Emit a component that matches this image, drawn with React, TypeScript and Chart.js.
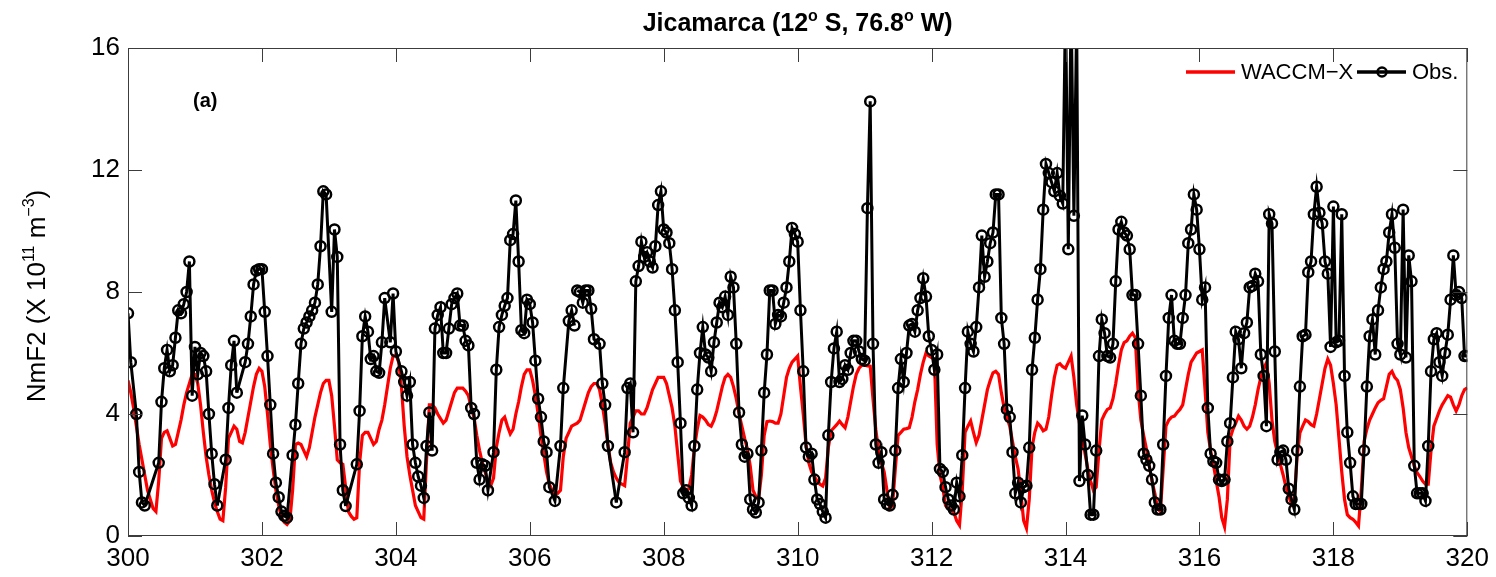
import React, { useEffect, useRef } from "react";
import { Chart, registerables } from "chart.js";

Chart.register(...registerables);

const START_DAY = 300;
const HOURS_PER_DAY = 24;
const X_TICKS = [300, 302, 304, 306, 308, 310, 312, 314, 316, 318, 320];
const Y_TICKS = [0, 4, 8, 12, 16];

// WACCM-X hourly NmF2 (x 10^11 m^-3), one row per day (300 .. 319), last row = day 320 h0
const WACCM_X: number[][] = [
  [5.1, 4.7, 4.2, 3.6, 3.0, 2.5, 2.0, 1.5, 1.2, 0.9, 0.8, 1.8, 3.2, 3.4, 3.45, 3.2, 2.95, 3.0, 3.4, 3.8, 4.3, 4.7, 5.0, 5.3],
  [5.3, 5.0, 4.3, 3.4, 2.6, 2.0, 1.5, 1.1, 0.8, 0.55, 0.5, 1.6, 3.2, 3.4, 3.6, 3.5, 3.1, 3.05, 3.4, 3.9, 4.4, 4.9, 5.3, 5.5],
  [5.4, 4.9, 4.0, 3.0, 2.2, 1.5, 1.0, 0.6, 0.45, 0.38, 0.5, 1.5, 3.0, 3.05, 3.0, 2.8, 2.6, 2.9, 3.4, 3.9, 4.3, 4.7, 5.0, 5.1],
  [5.1, 4.6, 3.6, 2.5, 2.4, 2.35, 1.6, 0.8, 0.65, 0.55, 0.6, 2.4, 3.3, 3.4, 3.4, 3.2, 3.0, 3.1, 3.5, 3.8, 4.3, 4.9, 5.5, 5.9],
  [5.95, 5.7, 4.9, 3.6, 2.6, 2.0, 1.5, 1.0, 0.8, 0.6, 0.55, 2.5, 4.3, 4.3, 4.2, 4.0, 3.85, 3.7, 3.8, 4.1, 4.4, 4.7, 4.85, 4.85],
  [4.85, 4.75, 4.6, 4.2, 3.9, 3.3, 2.8, 2.4, 2.1, 1.8, 1.65, 1.9, 2.9, 3.4, 3.8, 3.9, 3.6, 3.35, 3.5, 4.0, 4.4, 4.9, 5.3, 5.45],
  [5.45, 5.1, 4.6, 4.0, 3.3, 2.7, 2.1, 1.7, 1.5, 1.4, 1.4, 1.5, 2.6, 3.2, 3.4, 3.6, 3.65, 3.7, 3.8, 4.1, 4.4, 4.7, 4.9, 5.0],
  [5.0, 4.8, 4.3, 3.7, 3.0, 2.4, 2.1, 1.9, 1.75, 1.7, 1.65, 2.6, 3.7, 3.9, 4.1, 4.1, 4.0, 4.0, 4.2, 4.5, 4.8, 5.0, 5.2, 5.2],
  [5.2, 5.0, 4.6, 4.2, 3.6, 2.7, 1.8, 1.6, 1.5, 1.55, 2.0, 2.9, 3.5, 3.95, 3.9, 3.8, 3.65, 3.6, 3.8, 4.1, 4.5, 4.9, 5.2, 5.3],
  [5.2, 4.9, 4.5, 4.0, 3.6, 3.2, 2.85, 2.3, 1.5, 1.3, 1.2, 2.0, 3.3, 3.75, 3.77, 3.75, 3.7, 3.7, 4.0, 4.6, 5.2, 5.5, 5.7, 5.8],
  [5.9, 4.9, 4.0, 3.0, 2.4, 2.1, 1.95, 1.8, 1.7, 1.64, 1.9, 2.9, 3.45, 3.55, 3.65, 3.77, 3.65, 3.55, 3.9, 4.4, 4.9, 5.3, 5.5, 5.6],
  [5.6, 5.58, 5.57, 4.5, 3.5, 2.8, 2.4, 2.1, 1.5, 0.9, 1.0, 2.2, 3.3, 3.4, 3.5, 3.52, 3.55, 3.9, 4.4, 4.8, 5.3, 5.7, 6.0, 5.9],
  [5.85, 5.8, 3.0, 2.0, 1.6, 1.0, 0.9, 0.85, 0.77, 0.5, 0.35, 1.5, 3.4, 3.6, 3.77, 3.4, 3.06, 3.3, 3.8, 4.3, 4.8, 5.1, 5.35, 5.4],
  [5.3, 4.7, 4.2, 3.9, 3.6, 3.1, 2.6, 2.2, 1.4, 0.5, 0.25, 1.2, 2.9, 3.4, 3.7, 3.6, 3.45, 3.5, 3.9, 4.6, 5.2, 5.6, 5.65, 5.55],
  [5.5, 5.7, 5.9, 5.2, 4.3, 3.7, 3.2, 2.7, 2.2, 1.8, 1.5, 1.6, 2.8, 3.8, 4.0, 4.15, 4.2, 4.5, 5.0, 5.6, 6.1, 6.34, 6.4, 6.55],
  [6.65, 6.5, 4.8, 3.8, 3.3, 2.85, 2.3, 1.8, 1.4, 0.9, 0.8, 2.2, 3.6, 3.8, 3.9, 3.93, 4.05, 4.15, 4.3, 4.8, 5.3, 5.7, 5.85, 6.0],
  [6.05, 6.1, 4.8, 3.4, 2.8, 2.35, 1.8, 1.3, 0.6, 0.3, 1.2, 3.2, 3.5, 3.7, 3.93, 3.8, 3.6, 3.5, 3.6, 3.9, 4.3, 4.8, 5.2, 5.5],
  [5.68, 5.0, 3.8, 3.1, 2.7, 2.35, 2.0, 1.6, 1.3, 1.05, 1.2, 2.6, 3.38, 3.6, 3.8, 3.75, 3.65, 3.6, 4.0, 4.5, 5.0, 5.5, 5.8, 5.6],
  [5.0, 4.3, 3.2, 2.1, 1.2, 0.7, 0.6, 0.55, 0.45, 0.33, 1.5, 3.1, 3.5, 3.8, 4.0, 4.2, 4.37, 4.45, 4.5, 4.9, 5.3, 5.4, 5.2, 5.1],
  [4.8, 4.2, 3.4, 2.9, 2.6, 2.3, 2.08, 1.95, 1.8, 1.7, 1.7, 2.8, 3.6, 3.85, 4.1, 4.3, 4.45, 4.6, 4.55, 4.3, 4.1, 4.3, 4.6, 4.8],
  [4.86],
];

// Observed hourly NmF2 (null = no sounding that hour)
const OBS: (number | null)[][] = [
  [7.3, 5.7, null, 4.0, 2.1, 1.1, 1.0, null, null, null, null, 2.4, 4.4, 5.5, 6.1, 5.4, 5.6, 6.5, 7.4, 7.3, 7.6, 8.0, 9.0, 4.6],
  [6.2, 5.3, 6.0, 5.9, 5.4, 4.0, 2.7, 1.7, 1.0, null, null, 2.5, 4.2, 5.6, 6.4, 4.7, null, null, 5.7, 6.3, 7.2, 8.25, 8.7, 8.75],
  [8.75, 7.35, 5.9, 4.3, 2.7, 1.75, 1.27, 0.8, 0.66, 0.6, null, 2.65, 3.65, 5.0, 6.3, 6.8, 7.0, 7.2, 7.4, 7.65, 8.25, 9.5, 11.3, 11.2],
  [null, 7.35, 10.05, 9.15, 3.0, 1.5, 0.98, null, null, null, 2.35, 4.1, 6.55, 7.2, 6.7, 5.8, 5.9, 5.4, 5.35, 6.35, 7.8, null, 6.35, 7.95],
  [6.05, null, 5.4, 5.05, 4.6, 5.05, 3.0, 2.4, 1.95, 1.65, 1.25, 2.95, 4.05, 2.8, 6.8, 7.25, 7.5, 6.0, 6.0, 6.8, 7.6, 7.8, 7.95, 6.9],
  [6.9, 6.4, 6.25, 4.2, 4.0, 2.4, 1.85, 2.35, 2.3, 1.5, null, 2.75, 5.45, 6.85, 7.25, 7.55, 7.8, 9.7, 9.9, 11.0, 9.0, 6.75, 6.65, 7.75],
  [7.6, 7.0, 5.75, 4.5, 3.9, 3.1, 2.75, 1.6, null, 1.15, null, 2.95, 4.85, null, 7.05, 7.4, 6.9, 8.05, 8.0, 7.65, 8.05, 8.05, 7.45, 6.45],
  [null, 6.3, 5.0, 4.3, 2.95, null, null, 1.1, null, null, 2.75, 4.85, 5.0, 3.4, 8.35, 8.85, 9.65, 9.15, 9.3, 9.0, 8.8, 9.5, 10.85, 11.3],
  [10.05, 9.95, 9.6, 8.75, 7.4, 5.7, 3.7, 1.4, 1.5, 1.25, 1.0, 2.95, 4.8, 6.0, 6.85, 5.95, 5.85, 5.4, 6.35, 7.0, 7.65, 7.5, 7.85, 7.25],
  [8.5, 8.15, 6.3, 4.05, 3.0, 2.6, 2.7, 1.2, 0.87, 0.77, 1.1, 2.8, 4.7, 5.95, 8.05, 8.05, 6.95, 7.25, 7.2, 7.65, 8.15, 9.0, 10.1, 9.9],
  [9.65, 7.4, 5.4, 2.9, 2.6, 2.7, 1.85, 1.2, 1.05, 0.8, 0.6, 3.3, 5.05, 6.15, 6.7, 5.05, 5.15, 5.6, 5.45, 6.0, 6.4, 6.4, 6.05, 5.8],
  [5.75, 10.75, 14.25, 6.3, 3.0, 2.4, 2.75, 1.2, 1.05, 1.0, 1.35, 2.8, 4.85, 5.8, 5.05, 6.0, 6.9, 6.95, 6.7, 7.4, 7.8, 8.45, 7.85, 6.55],
  [6.1, 5.45, 5.95, 2.2, 2.1, 1.6, 1.2, 1.0, 0.87, 1.75, 1.3, 2.65, 4.85, 6.7, 6.3, 6.05, 6.85, 8.15, 9.85, 8.5, 9.0, 9.6, 9.95, 11.2],
  [11.2, 7.15, 6.3, 4.15, 3.9, 2.75, 1.4, 1.75, 1.1, 1.6, 1.65, 2.9, 5.45, 6.5, 7.75, 8.75, 10.7, 12.2, 11.9, 11.6, 11.3, 11.9, 11.15, 10.9],
  [17.5, 9.4, 17.5, 10.5, 17.0, 1.8, 3.95, 3.0, 2.0, 0.7, 0.7, 2.8, 5.9, 7.1, 6.65, 5.9, 5.85, 6.3, 8.35, 10.05, 10.3, 9.95, 9.85, 9.4],
  [7.9, 7.9, 6.3, 4.6, 2.7, 2.5, 2.3, 1.85, 1.1, 0.87, 0.87, 3.0, 5.25, 7.15, 7.9, 6.4, 6.3, 6.3, 7.15, 7.9, 9.6, 10.05, 11.2, 10.7],
  [9.4, 7.75, 8.15, 4.2, 2.7, 2.45, 2.4, 1.85, 1.8, 1.85, 3.1, 3.7, 5.2, 6.7, 6.45, 5.5, 6.65, 7.0, 8.15, 8.2, 8.6, 8.35, 5.95, 5.25],
  [3.6, 10.55, 10.25, 6.05, 2.5, 2.75, 2.8, 2.5, 1.55, 1.2, 0.87, 2.8, 4.9, 6.55, 6.6, 8.65, 9.0, 10.55, 11.45, 10.6, 10.25, 9.0, 8.6, 6.2],
  [10.8, 6.35, 6.4, 10.55, 5.25, 3.4, 2.4, 1.3, 1.05, 1.05, 1.05, 2.8, 4.9, 6.55, 7.1, 5.95, 7.4, 8.15, 8.75, 9.0, 9.95, 10.55, 9.45, 6.3],
  [5.95, 10.7, 5.85, 9.2, 8.35, 2.3, 1.4, 1.4, 1.4, 1.15, 2.95, 5.4, 6.45, 6.65, 5.7, 5.25, 6.0, 6.6, 7.75, 9.2, 7.9, 8.0, 7.8, 5.9],
  [5.9],
];

// [day, hour] after which the observed line is interrupted
const OBS_BREAKS: [number, number][] = [
  [300, 6], [301, 8], [301, 15], [303, 6], [306, 16], [307, 4], [307, 7],
];

const FONT = "'Liberation Sans', Arial, Helvetica, sans-serif";

function toPoints(rows: (number | null)[][]) {
  const pts: { x: number; y: number | null }[] = [];
  rows.forEach((row, d) =>
    row.forEach((v, h) => pts.push({ x: START_DAY + d + h / HOURS_PER_DAY, y: v }))
  );
  return pts;
}

type Part = { t: string; sup?: boolean };

function drawRich(
  ctx: CanvasRenderingContext2D,
  parts: Part[],
  x: number,
  y: number,
  size: number,
  weight: string,
  align: "left" | "center"
) {
  const supSize = Math.round(size * 0.62);
  const rise = size * 0.42;
  const widths = parts.map((p) => {
    ctx.font = `${weight} ${p.sup ? supSize : size}px ${FONT}`;
    return ctx.measureText(p.t).width;
  });
  const total = widths.reduce((a, b) => a + b, 0);
  let cx = align === "center" ? x - total / 2 : x;
  ctx.textAlign = "left";
  ctx.textBaseline = "alphabetic";
  parts.forEach((p, i) => {
    ctx.font = `${weight} ${p.sup ? supSize : size}px ${FONT}`;
    ctx.fillText(p.t, cx, p.sup ? y - rise : y);
    cx += widths[i];
  });
}

const decorPlugin = {
  id: "decor",
  afterDraw(chart: any) {
    const { ctx, chartArea: a, scales } = chart;
    ctx.save();
    // frame
    ctx.strokeStyle = "#3c3c3c";
    ctx.lineWidth = 1;
    ctx.strokeRect(a.left + 0.5, a.top + 0.5, a.right - a.left - 1, a.bottom - a.top - 1);
    // inner tick marks
    const tl = 14;
    ctx.beginPath();
    X_TICKS.forEach((v) => {
      const px = Math.round(scales.x.getPixelForValue(v)) + 0.5;
      ctx.moveTo(px, a.bottom);
      ctx.lineTo(px, a.bottom - tl);
      ctx.moveTo(px, a.top);
      ctx.lineTo(px, a.top + tl);
    });
    Y_TICKS.forEach((v) => {
      const py = Math.round(scales.y.getPixelForValue(v)) + 0.5;
      ctx.moveTo(a.left, py);
      ctx.lineTo(a.left + tl, py);
      ctx.moveTo(a.right, py);
      ctx.lineTo(a.right - tl, py);
    });
    ctx.stroke();

    ctx.fillStyle = "#000";
    // title
    drawRich(
      ctx,
      [{ t: "Jicamarca (12" }, { t: "o", sup: true }, { t: " S, 76.8" }, { t: "o", sup: true }, { t: " W)" }],
      (a.left + a.right) / 2,
      31,
      25,
      "bold",
      "center"
    );
    // y label
    ctx.save();
    ctx.translate(45, 296);
    ctx.rotate(-Math.PI / 2);
    drawRich(
      ctx,
      [{ t: "NmF2 (X 10" }, { t: "11", sup: true }, { t: " m" }, { t: "\u22123", sup: true }, { t: ")" }],
      0,
      0,
      26,
      "normal",
      "center"
    );
    ctx.restore();

    // panel tag
    ctx.font = `bold 20px ${FONT}`;
    ctx.textAlign = "left";
    ctx.textBaseline = "middle";
    ctx.fillText("(a)", 193, 101);

    // legend
    const ly = 72;
    ctx.lineCap = "butt";
    ctx.strokeStyle = "#ff0000";
    ctx.lineWidth = 3.5;
    ctx.beginPath();
    ctx.moveTo(1186, ly);
    ctx.lineTo(1235, ly);
    ctx.stroke();
    ctx.font = `22px ${FONT}`;
    ctx.fillStyle = "#000";
    ctx.textBaseline = "middle";
    ctx.fillText("WACCM\u2212X", 1241, ly + 1);
    ctx.strokeStyle = "#000";
    ctx.lineWidth = 3.5;
    ctx.beginPath();
    ctx.moveTo(1357, ly);
    ctx.lineTo(1406, ly);
    ctx.stroke();
    ctx.lineWidth = 2.5;
    ctx.beginPath();
    ctx.arc(1382, ly, 4.5, 0, Math.PI * 2);
    ctx.stroke();
    ctx.fillText("Obs.", 1412, ly + 1);
    ctx.restore();
  },
};

export default function App() {
  const ref = useRef<HTMLCanvasElement>(null);

  useEffect(() => {
    const canvas = ref.current;
    if (!canvas) return;
    const breakIdx = new Set(
      OBS_BREAKS.map(([d, h]) => (d - START_DAY) * HOURS_PER_DAY + h)
    );
    const tickFont = { family: FONT, size: 26 };
    const chart = new Chart(canvas, {
      type: "line",
      data: {
        datasets: [
          {
            label: "Obs.",
            data: toPoints(OBS) as any,
            borderColor: "#000",
            borderWidth: 3,
            pointRadius: 5,
            pointBorderWidth: 2.5,
            pointBorderColor: "#000",
            pointBackgroundColor: "rgba(0,0,0,0)",
            pointHoverRadius: 5,
            spanGaps: true,
            tension: 0,
            order: 1,
            segment: {
              borderColor: (c: any) =>
                breakIdx.has(c.p0DataIndex) ? "rgba(0,0,0,0)" : undefined,
            },
          } as any,
          {
            label: "WACCM-X",
            data: toPoints(WACCM_X) as any,
            borderColor: "#ff0000",
            borderWidth: 3.2,
            pointRadius: 0,
            tension: 0,
            order: 2,
          },
        ],
      },
      options: {
        responsive: false,
        animation: false,
        devicePixelRatio: 1,
        events: [],
        layout: { padding: { top: 48, right: 24, left: 0, bottom: 0 } },
        plugins: {
          legend: { display: false },
          title: { display: false },
          tooltip: { enabled: false },
        },
        scales: {
          x: {
            type: "linear",
            min: 300,
            max: 320,
            afterBuildTicks: (s: any) => {
              s.ticks = X_TICKS.map((v) => ({ value: v }));
            },
            afterFit: (s: any) => {
              s.height = 41;
            },
            grid: { display: false, drawTicks: false },
            border: { display: false },
            ticks: {
              font: tickFont,
              color: "#000",
              padding: 7,
              maxRotation: 0,
              autoSkip: false,
            },
          },
          y: {
            type: "linear",
            min: 0,
            max: 16,
            afterBuildTicks: (s: any) => {
              s.ticks = Y_TICKS.map((v) => ({ value: v }));
            },
            afterFit: (s: any) => {
              s.width = 128;
            },
            grid: { display: false, drawTicks: false },
            border: { display: false },
            ticks: {
              font: tickFont,
              color: "#000",
              padding: 8,
              autoSkip: false,
            },
          },
        },
      } as any,
      plugins: [decorPlugin],
    });
    return () => chart.destroy();
  }, []);

  return (
    <div
      style={{
        position: "absolute",
        left: 0,
        top: 0,
        width: 1496,
        height: 577,
        background: "#fff",
      }}
    >
      <canvas ref={ref} width={1496} height={577} style={{ display: "block" }} />
    </div>
  );
}
